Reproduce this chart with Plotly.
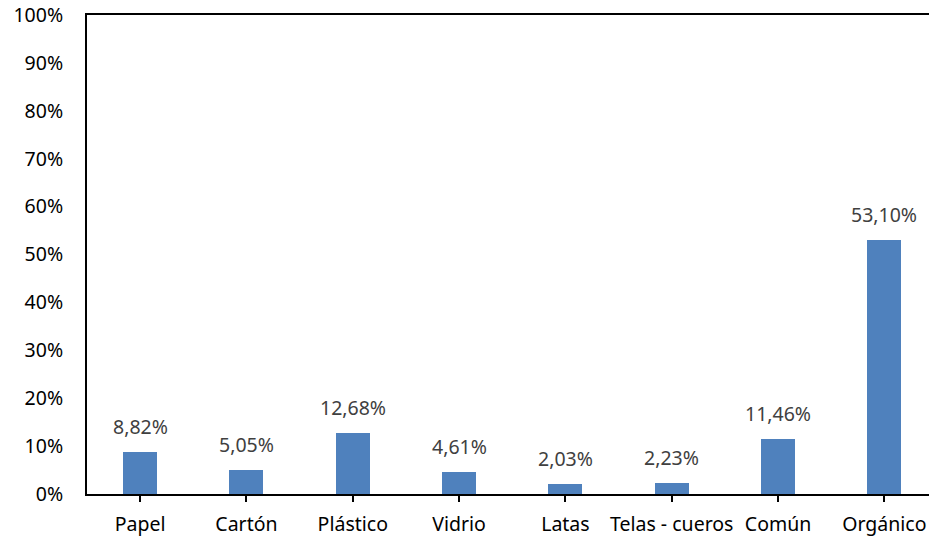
import plotly.graph_objects as go

categorias = ["Papel", "Cartón", "Plástico", "Vidrio", "Latas", "Telas - cueros", "Común", "Orgánico"]
porcentajes = [8.82, 5.05, 12.68, 4.61, 2.03, 2.23, 11.46, 53.10]
ticks_y = [0, 10, 20, 30, 40, 50, 60, 70, 80, 90, 100]
etiquetas_y = [f"{v}%" for v in ticks_y]

FUENTE = "Noto Sans"
TAM = 19.5

fig = go.Figure()
fig.add_trace(go.Bar(
    x=list(range(len(categorias))),
    y=porcentajes,
    width=0.32,
    marker=dict(color="#4F81BD", line=dict(width=0)),
    hoverinfo="skip",
))

# Value labels above each bar
for i, v in enumerate(porcentajes):
    fig.add_annotation(
        x=i, y=v, xref="x", yref="y",
        text=f"{v:.2f}".replace(".", ",") + "%",
        showarrow=False, yanchor="bottom", yshift=10,
        font=dict(family=FUENTE, size=TAM, color="#404040"),
    )

fig.update_layout(
    width=929, height=539,
    margin=dict(l=87, r=0, t=15, b=45),
    paper_bgcolor="white", plot_bgcolor="white",
    showlegend=False,
    bargap=0,
)
fig.update_xaxes(
    range=[-0.5, 7.42],
    tickmode="array",
    tickvals=list(range(len(categorias))),
    ticktext=categorias,
    tickson="boundaries",
    ticks="outside", ticklen=6, tickwidth=2, tickcolor="black",
    showline=True, linecolor="black", linewidth=2, mirror=True,
    showgrid=False, zeroline=False,
    ticklabelstandoff=6,
    tickfont=dict(family=FUENTE, size=TAM, color="black"),
)
fig.update_yaxes(
    range=[0, 100],
    tickmode="array", tickvals=ticks_y, ticktext=etiquetas_y,
    ticks="", showline=True, linecolor="black", linewidth=2,
    showgrid=False, zeroline=False,
    ticklabelstandoff=18,
    tickfont=dict(family=FUENTE, size=TAM, color="black"),
)

fig.write_html("out.html")
